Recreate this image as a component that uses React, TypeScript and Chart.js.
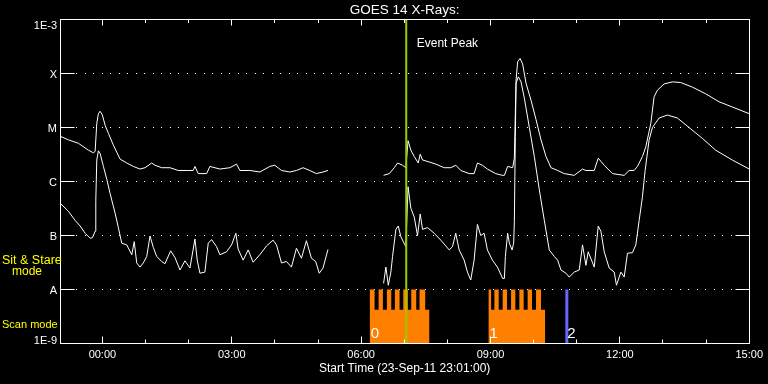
import React, { useEffect, useRef } from 'react';
import { Chart, registerables } from 'chart.js';

Chart.register(...registerables);

// Time in hours relative to 24-Sep-2011 00:00 UT (plot starts 23-Sep-11 23:01)
const startHour = -0.9833;
const endHour = 15;

const chartTitle = 'GOES 14 X-Rays:';
const xAxisTitle = 'Start Time (23-Sep-11 23:01:00)';

// Long channel (upper curve), W/m^2 ; null = data gap
const longHours = [
  -0.983, -0.787, -0.556, -0.324, -0.208, -0.169, -0.130, -0.093, -0.053, 0.000,
  0.063, 0.139, 0.255, 0.410, 0.565, 0.718, 0.873, 0.988, 1.144, 1.220,
  1.375, 1.567, 1.759, 1.991, 2.106, 2.146, 2.222, 2.417, 2.493, 2.725,
  2.956, 3.111, 3.188, 3.419, 3.650, 3.882, 3.998, 4.153, 4.345, 4.500,
  4.653, 4.808, 4.963, 5.116, 5.231, 5.900,
  6.521, 6.653, 6.769, 6.845, 6.961, 7.037, 7.088, 7.153, 7.231, 7.324,
  7.370, 7.424, 7.579, 7.731, 7.926, 8.079, 8.194, 8.310, 8.505, 8.620,
  8.697, 8.813, 8.928, 9.120, 9.275, 9.322, 9.398, 9.514, 9.553, 9.593,
  9.630, 9.685, 9.745, 9.824, 9.940, 10.056, 10.171, 10.287, 10.403, 10.556,
  10.711, 10.942, 11.134, 11.213, 11.405, 11.498, 11.637, 11.829, 12.100, 12.215,
  12.331, 12.407, 12.523, 12.602, 12.718, 12.794, 12.870, 13.025, 13.218, 13.412,
  13.681, 13.991, 14.299, 14.606, 15.000,
];
const longFlux = [
  6.9e-6, 5.9e-6, 5.1e-6, 3.8e-6, 3.4e-6, 3.6e-6, 1.2e-5, 1.8e-5, 2.0e-5, 1.7e-5,
  1.1e-5, 7.8e-6, 4.7e-6, 2.6e-6, 2.2e-6, 1.9e-6, 1.7e-6, 1.8e-6, 2.2e-6, 2.0e-6,
  1.8e-6, 1.8e-6, 1.6e-6, 1.6e-6, 1.6e-6, 1.9e-6, 1.4e-6, 1.4e-6, 1.9e-6, 1.7e-6,
  1.8e-6, 2.1e-6, 1.6e-6, 1.6e-6, 1.5e-6, 1.9e-6, 2.0e-6, 1.6e-6, 1.5e-6, 1.6e-6,
  1.8e-6, 1.6e-6, 1.4e-6, 1.5e-6, 1.6e-6, null,
  1.3e-6, 1.4e-6, 1.8e-6, 2.2e-6, 2.0e-6, 1.8e-6, 5.7e-6, 3.8e-6, 2.9e-6, 2.2e-6,
  3.2e-6, 2.5e-6, 2.3e-6, 2.1e-6, 1.8e-6, 1.8e-6, 2.0e-6, 1.6e-6, 1.4e-6, 1.4e-6,
  2.2e-6, 2.0e-6, 1.7e-6, 1.4e-6, 1.3e-6, 1.3e-6, 1.9e-6, 1.8e-6, 2.7e-6, 7.6e-5,
  1.65e-4, 1.9e-4, 1.5e-4, 6.6e-5, 3.2e-5, 1.4e-5, 5.9e-6, 2.9e-6, 1.8e-6, 1.6e-6,
  1.4e-6, 1.3e-6, 1.7e-6, 1.6e-6, 1.6e-6, 2.7e-6, 2.0e-6, 1.4e-6, 1.3e-6, 1.6e-6,
  1.6e-6, 1.9e-6, 2.9e-6, 4.4e-6, 1.2e-5, 3.7e-5, 4.9e-5, 6.4e-5, 7.0e-5, 6.8e-5,
  5.6e-5, 4.2e-5, 3.0e-5, 2.4e-5, 1.8e-5,
];

// Short channel (lower curve), W/m^2 ; null = data gap
const shortHours = [
  -0.983, -0.787, -0.632, -0.516, -0.400, -0.285, -0.231, -0.169, -0.153, -0.130,
  -0.093, -0.053, 0.023, 0.102, 0.178, 0.294, 0.370, 0.449, 0.565, 0.681,
  0.738, 0.796, 0.873, 0.949, 1.028, 1.104, 1.181, 1.259, 1.375, 1.451,
  1.583, 1.683, 1.799, 1.914, 2.030, 2.146, 2.199, 2.262, 2.377, 2.454,
  2.532, 2.648, 2.725, 2.880, 2.995, 3.095, 3.148, 3.264, 3.380, 3.495,
  3.650, 3.806, 3.958, 4.037, 4.153, 4.269, 4.384, 4.500, 4.616, 4.731,
  4.847, 4.947, 5.028, 5.116, 5.231, 5.900,
  6.521, 6.574, 6.630, 6.690, 6.729, 6.806, 6.861, 6.921, 7.037, 7.088,
  7.153, 7.231, 7.308, 7.370, 7.424, 7.539, 7.694, 7.847, 7.963, 8.042,
  8.118, 8.194, 8.273, 8.389, 8.465, 8.542, 8.620, 8.697, 8.773, 8.852,
  8.928, 9.044, 9.160, 9.282, 9.322, 9.345, 9.398, 9.438, 9.500, 9.537,
  9.553, 9.576, 9.593, 9.646, 9.708, 9.785, 9.901, 10.016, 10.132, 10.248,
  10.363, 10.479, 10.556, 10.634, 10.750, 10.826, 10.942, 11.058, 11.134, 11.213,
  11.266, 11.405, 11.498, 11.560, 11.637, 11.752, 11.868, 11.921, 12.023, 12.100,
  12.176, 12.292, 12.370, 12.447, 12.523, 12.586, 12.678, 12.755, 12.910, 13.102,
  13.333, 13.604, 13.912, 14.222, 14.606, 15.000,
];
const shortFlux = [
  4.0e-7, 2.8e-7, 1.9e-7, 1.5e-7, 1.1e-7, 8.9e-8, 9.1e-8, 1.2e-7, 4.5e-7, 2.5e-6,
  3.7e-6, 3.3e-6, 1.9e-6, 1.1e-6, 6.0e-7, 2.6e-7, 1.4e-7, 7.2e-8, 6.7e-8, 4.4e-8,
  7.7e-8, 3.1e-8, 2.6e-8, 3.1e-8, 4.1e-8, 9.8e-8, 6.0e-8, 4.1e-8, 3.3e-8, 3.0e-8,
  5.2e-8, 3.9e-8, 2.3e-8, 3.4e-8, 2.5e-8, 8.6e-8, 3.5e-8, 2.0e-8, 2.1e-8, 7.2e-8,
  8.4e-8, 6.2e-8, 4.4e-8, 5.0e-8, 6.7e-8, 1.1e-7, 5.6e-8, 3.5e-8, 5.4e-8, 3.2e-8,
  4.4e-8, 6.4e-8, 8.2e-8, 6.7e-8, 3.1e-8, 3.3e-8, 2.6e-8, 5.8e-8, 3.8e-8, 8.0e-8,
  3.8e-8, 3.3e-8, 2.0e-8, 2.5e-8, 5.5e-8, null,
  1.3e-8, 2.6e-8, 1.2e-8, 2.1e-8, 4.1e-8, 1.3e-7, 1.5e-7, 9.5e-8, 6.2e-8, 8.0e-7,
  3.2e-7, 2.2e-7, 1.0e-7, 2.5e-7, 1.3e-7, 1.4e-7, 1.1e-7, 8.2e-8, 6.4e-8, 5.4e-8,
  6.2e-8, 1.1e-7, 5.4e-8, 3.5e-8, 2.1e-8, 1.5e-8, 3.5e-8, 1.6e-7, 1.0e-7, 1.1e-7,
  5.4e-8, 3.5e-8, 2.6e-8, 1.6e-8, 1.6e-8, 4.1e-8, 1.1e-7, 7.2e-8, 5.4e-8, 7.2e-8,
  1.8e-7, 6.8e-6, 6.6e-5, 8.7e-5, 7.0e-5, 3.5e-5, 1.0e-5, 2.9e-6, 7.0e-7, 1.9e-7,
  5.4e-8, 4.1e-8, 3.5e-8, 2.3e-8, 2.0e-8, 1.7e-8, 2.1e-8, 2.3e-8, 6.7e-8, 2.8e-8,
  5.0e-8, 2.6e-8, 1.5e-7, 1.2e-7, 5.0e-8, 2.5e-8, 2.1e-8, 1.2e-8, 2.1e-8, 1.7e-8,
  4.7e-8, 4.8e-8, 6.7e-8, 1.9e-7, 5.2e-7, 1.6e-6, 5.9e-6, 1.0e-5, 1.5e-5, 1.7e-5,
  1.5e-5, 1.0e-5, 6.3e-6, 3.8e-6, 2.5e-6, 1.7e-6,
];

const yTickValues = [1e-9, 1e-8, 1e-7, 1e-6, 1e-5, 1e-4, 1e-3];
const yTickLabels = ['1E-9', 'A', 'B', 'C', 'M', 'X', '1E-3'];
const xTickHours = [0, 1, 2, 3, 4, 5, 6, 7, 8, 9, 10, 11, 12, 13, 14, 15];
const xLabelHours = [0, 3, 6, 9, 12, 15];
const xTickLabels = ['00:00', '03:00', '06:00', '09:00', '12:00', '15:00'];

const eventPeakHour = 7.046;
const eventPeakLabel = 'Event Peak';
const modeChangeHour = 10.77;

const scan0ToothStart = [6.197, 6.405, 6.597, 6.782, 6.977, 7.162, 7.354];
const scan0ToothEnd = [6.312, 6.505, 6.699, 6.891, 7.083, 7.278, 7.486];
const scan0End = 7.586;
const scan1ToothStart = [8.951, 9.090, 9.282, 9.477, 9.669, 9.861, 10.056];
const scan1ToothEnd = [9.014, 9.190, 9.384, 9.576, 9.769, 9.963, 10.171];
const scan1End = 10.271;
const scanToothLevel = 1e-8;
const scanBaseLevel = 4.2e-9;
const scanLabels = ['0', '1', '2'];
const scanLabelHours = [6.197, 8.951, 10.755];

const modeLabels = ['Sit & Stare', 'mode', 'Scan mode'];

const FONT = '"Liberation Sans", Arial, sans-serif';
const ORANGE = '#ff8000';
const GREEN = '#99cc00';
const BLUE = '#6464ff';

function toPoints(hours: number[], flux: (number | null)[]) {
  return hours.map((h, i) => ({ x: h, y: flux[i] }));
}

function blockOutline(starts: number[], ends: number[], blockEnd: number) {
  const pts: { x: number; y: number }[] = [];
  starts.forEach((s, i) => {
    if (i > 0) pts.push({ x: s, y: scanBaseLevel });
    pts.push({ x: s, y: scanToothLevel });
    pts.push({ x: ends[i], y: scanToothLevel });
    pts.push({ x: ends[i], y: scanBaseLevel });
  });
  pts.push({ x: blockEnd, y: scanBaseLevel });
  return pts;
}

const decorPlugin = {
  id: 'goesDecor',
  beforeDatasetsDraw(chart: any) {
    const { ctx, chartArea: a, scales } = chart;
    const y = scales.y;
    ctx.save();
    ctx.fillStyle = '#ffffff';
    yTickValues.forEach((v, i) => {
      if (i === 0 || i === yTickValues.length - 1) return;
      const py = Math.floor(y.getPixelForValue(v));
      for (let px = a.left + 16; px < a.right - 16; px += 8.5) {
        ctx.fillRect(Math.round(px), py, 1, 1);
      }
    });
    ctx.restore();
  },
  afterDatasetsDraw(chart: any) {
    const { ctx, chartArea: a, scales } = chart;
    const x = scales.x;
    const y = scales.y;
    ctx.save();
    ctx.strokeStyle = '#ffffff';
    ctx.lineWidth = 1;
    const L = Math.round(a.left) + 0.5;
    const R = Math.round(a.right) + 0.5;
    const T = Math.floor(a.top) + 0.5;
    const B = Math.floor(a.bottom) + 0.5;
    ctx.strokeRect(L, T, R - L, B - T);
    ctx.beginPath();
    yTickValues.forEach((v) => {
      const py = Math.floor(y.getPixelForValue(v)) + 0.5;
      ctx.moveTo(L, py);
      ctx.lineTo(L + 14, py);
      ctx.moveTo(R - 14, py);
      ctx.lineTo(R, py);
    });
    xTickHours.forEach((h) => {
      const px = Math.floor(x.getPixelForValue(h)) + 0.5;
      const major = xLabelHours.includes(h);
      ctx.moveTo(px, B);
      ctx.lineTo(px, B - (major ? 7 : 4));
      ctx.moveTo(px, T);
      ctx.lineTo(px, T + (major ? 6 : 3.5));
    });
    ctx.stroke();

    // y tick labels
    ctx.fillStyle = '#ffffff';
    ctx.font = `11px ${FONT}`;
    ctx.textAlign = 'right';
    ctx.textBaseline = 'alphabetic';
    yTickValues.forEach((v, i) => {
      const py = y.getPixelForValue(v) + 4;
      const by = Math.min(Math.max(py, a.top + 9), a.bottom);
      ctx.fillText(yTickLabels[i], a.left - 3, by);
    });

    // title
    ctx.textAlign = 'center';
    ctx.font = `13.5px ${FONT}`;
    ctx.fillText(chartTitle, (a.left + a.right) / 2, 14);

    // event peak label
    ctx.textAlign = 'left';
    ctx.font = `12px ${FONT}`;
    ctx.fillText(eventPeakLabel, x.getPixelForValue(eventPeakHour) + 10.5, 47);

    // scan block labels
    ctx.font = `15px ${FONT}`;
    scanLabels.forEach((t, i) => {
      ctx.fillText(t, x.getPixelForValue(scanLabelHours[i]) + 1, 338);
    });

    // mode labels
    ctx.fillStyle = '#ffff00';
    ctx.font = `12.5px ${FONT}`;
    ctx.fillText(modeLabels[0], 2, 263.5);
    ctx.font = `12px ${FONT}`;
    ctx.fillText(modeLabels[1], 12, 275);
    ctx.font = `11px ${FONT}`;
    ctx.fillText(modeLabels[2], 2, 328);
    ctx.restore();
  },
};

export default function App() {
  const ref = useRef<HTMLCanvasElement>(null);
  useEffect(() => {
    document.body.style.margin = '0';
    document.body.style.background = '#000';
    const chart = new Chart(ref.current as HTMLCanvasElement, {
      type: 'line',
      data: {
        datasets: [
          {
            label: 'Event peak',
            data: [
              { x: eventPeakHour, y: 1e-9 },
              { x: eventPeakHour, y: 1e-3 },
            ],
            borderColor: GREEN,
            borderWidth: 2,
            pointRadius: 0,
            order: 0,
          },
          {
            label: '0.1-0.8 nm',
            data: toPoints(longHours, longFlux),
            borderColor: '#ffffff',
            borderWidth: 1,
            pointRadius: 0,
            tension: 0,
            order: 1,
          },
          {
            label: '0.05-0.4 nm',
            data: toPoints(shortHours, shortFlux),
            borderColor: '#ffffff',
            borderWidth: 1,
            pointRadius: 0,
            tension: 0,
            order: 1,
          },
          {
            label: 'Mode change',
            data: [
              { x: modeChangeHour, y: 1e-9 },
              { x: modeChangeHour, y: scanToothLevel },
            ],
            borderColor: BLUE,
            borderWidth: 3,
            pointRadius: 0,
            order: 2,
          },
          {
            label: 'Scan 0',
            data: blockOutline(scan0ToothStart, scan0ToothEnd, scan0End),
            borderColor: ORANGE,
            borderWidth: 0,
            backgroundColor: ORANGE,
            fill: 'start',
            pointRadius: 0,
            order: 3,
          },
          {
            label: 'Scan 1',
            data: blockOutline(scan1ToothStart, scan1ToothEnd, scan1End),
            borderColor: ORANGE,
            borderWidth: 0,
            backgroundColor: ORANGE,
            fill: 'start',
            pointRadius: 0,
            order: 3,
          },
        ] as any,
      },
      options: {
        animation: false,
        responsive: false,
        devicePixelRatio: 1,
        layout: { padding: { top: 19.5, right: 18, left: 0, bottom: 0 } },
        plugins: {
          legend: { display: false },
          tooltip: { enabled: false },
          title: { display: false },
        },
        scales: {
          x: {
            type: 'linear',
            min: startHour,
            max: endHour,
            afterBuildTicks: (s: any) => {
              s.ticks = xTickHours.map((v) => ({ value: v }));
            },
            afterFit: (s: any) => {
              s.height = 40.5;
            },
            grid: { display: false, drawTicks: false },
            border: { display: false },
            ticks: {
              autoSkip: false,
              maxRotation: 0,
              color: '#ffffff',
              padding: 5,
              font: { family: FONT, size: 11 },
              callback: (v: any) => {
                const idx = xLabelHours.indexOf(Number(v));
                return idx >= 0 ? xTickLabels[idx] : '';
              },
            },
            title: {
              display: true,
              text: xAxisTitle,
              color: '#ffffff',
              font: { family: FONT, size: 12 },
              padding: { top: 0, bottom: 8 },
            },
          },
          y: {
            type: 'logarithmic',
            min: 1e-9,
            max: 1e-3,
            afterBuildTicks: (s: any) => {
              s.ticks = yTickValues.map((v) => ({ value: v }));
            },
            afterFit: (s: any) => {
              s.width = 60;
            },
            grid: { display: false, drawTicks: false },
            border: { display: false },
            ticks: { display: false },
          },
        },
      },
      plugins: [decorPlugin],
    } as any);
    return () => chart.destroy();
  }, []);
  return (
    <div style={{ width: 768, height: 384, background: '#000' }}>
      <canvas ref={ref} width={768} height={384} style={{ display: 'block' }} />
    </div>
  );
}
